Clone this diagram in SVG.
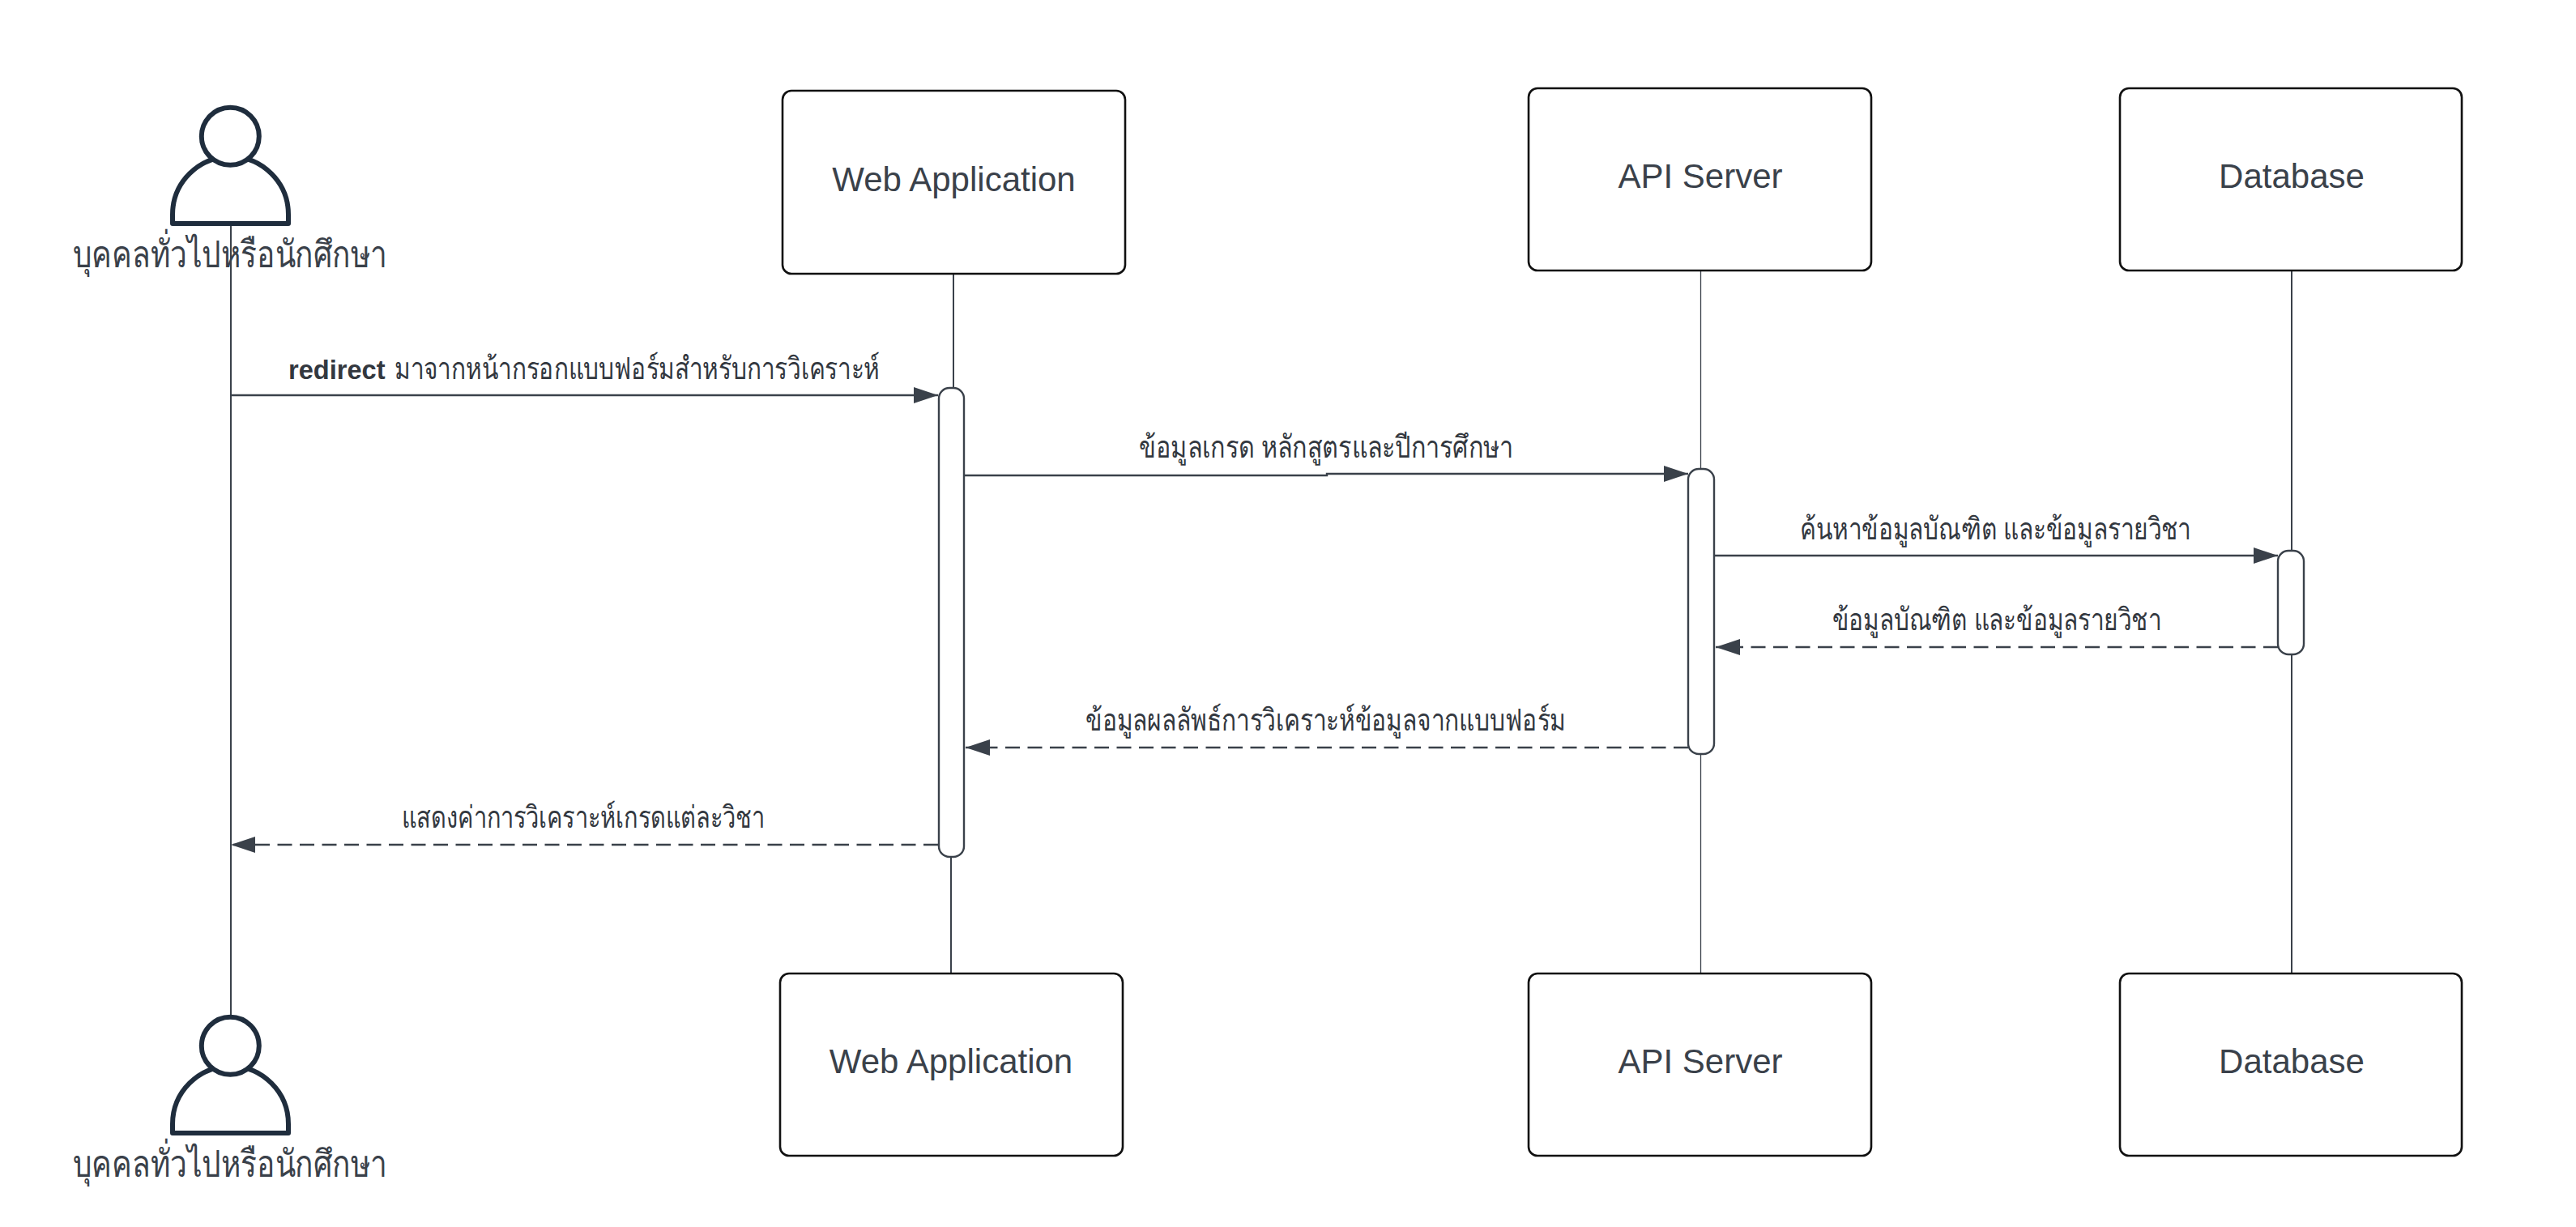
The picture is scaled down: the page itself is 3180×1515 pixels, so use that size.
<svg xmlns="http://www.w3.org/2000/svg" width="3180" height="1515" viewBox="0 0 3180 1515">
<style>
.box{fill:#fff;stroke:#111;stroke-width:2.6}
.lbl{font-family:"Liberation Sans",Arial,sans-serif;font-size:42px;fill:#3a414a;text-anchor:middle}
.th{font-family:"Liberation Serif","Noto Sans",serif;font-size:38px;fill:#33383f}
.b{font-family:"Liberation Sans",Arial,sans-serif;font-weight:bold;font-size:32.6px}
.act{font-size:46px;fill:#3a414a}
.ll{fill:none;stroke:#3a414a;stroke-width:2}
.msg{fill:none;stroke:#3a414a;stroke-width:2.4}
.dash{stroke-dasharray:18 9.5}
.bar{fill:#fff;stroke:#3a414a;stroke-width:2.4}
.per{fill:#fff;stroke:#1f2d3d;stroke-width:6;stroke-linejoin:round}
</style>
<defs>
<marker id="ah" markerUnits="userSpaceOnUse" markerWidth="31" markerHeight="22" refX="30" refY="11" orient="auto"><path d="M0 1L30 11L0 21Z" fill="#3a414a"/></marker>
<g id="person"><path class="per" d="M213 276V265A71.5 71.5 0 0 1 356 265V276Z"/><circle class="per" cx="284.3" cy="168.3" r="35.5"/></g>
</defs>
<rect width="3180" height="1515" fill="#fff"/>
<g id="connectors">
<path class="ll" d="M285 276V1253"/>
<path class="ll" d="M1177 338V479"/>
<path class="ll" d="M1174 1058V1202"/>
<path class="ll" d="M2099.5 334V1202" style="stroke-width:1.3"/>
<path class="ll" d="M2829 334V1202"/>
<path class="msg" d="M285 488H1158" marker-end="url(#ah)"/>
<path class="msg" d="M1191 587H1638V585H2084" marker-end="url(#ah)"/>
<path class="msg" d="M2116 686H2812" marker-end="url(#ah)"/>
<path class="msg dash" d="M2812 799H2118" marker-end="url(#ah)"/>
<path class="msg dash" d="M2084 923H1192" marker-end="url(#ah)"/>
<path class="msg dash" d="M1158 1043H285" marker-end="url(#ah)"/>
<text class="th" x="356" y="468"><tspan class="b">redirect</tspan> <tspan x="487" textLength="599" lengthAdjust="spacingAndGlyphs">มาจากหน้ากรอกแบบฟอร์มสำหรับการวิเคราะห์</tspan></text>
<text class="th" x="1406" y="565" textLength="462" lengthAdjust="spacingAndGlyphs">ข้อมูลเกรด หลักสูตรและปีการศึกษา</text>
<text class="th" x="2222" y="666" textLength="483" lengthAdjust="spacingAndGlyphs">ค้นหาข้อมูลบัณฑิต และข้อมูลรายวิชา</text>
<text class="th" x="2262" y="778" textLength="406" lengthAdjust="spacingAndGlyphs">ข้อมูลบัณฑิต และข้อมูลรายวิชา</text>
<text class="th" x="1340" y="902" textLength="593" lengthAdjust="spacingAndGlyphs">ข้อมูลผลลัพธ์การวิเคราะห์ข้อมูลจากแบบฟอร์ม</text>
<text class="th" x="496" y="1022" textLength="448" lengthAdjust="spacingAndGlyphs">แสดงค่าการวิเคราะห์เกรดแต่ละวิชา</text>
</g>
<g id="actor-top"><use href="#person"/><text class="th act" x="90" y="330" textLength="388" lengthAdjust="spacingAndGlyphs">บุคคลทั่วไปหรือนักศึกษา</text></g>
<g id="actor-bottom"><use href="#person" y="1123"/><text class="th act" x="90" y="1453" textLength="388" lengthAdjust="spacingAndGlyphs">บุคคลทั่วไปหรือนักศึกษา</text></g>
<g id="web-top"><rect class="box" x="966" y="112" width="423" height="226" rx="11"/><text class="lbl" x="1177.5" y="236">Web Application</text></g>
<g id="api-top"><rect class="box" x="1887" y="109" width="423" height="225" rx="11"/><text class="lbl" x="2099" y="232">API Server</text></g>
<g id="db-top"><rect class="box" x="2617" y="109" width="422" height="225" rx="11"/><text class="lbl" x="2829" y="232">Database</text></g>
<g id="web-bottom"><rect class="box" x="963" y="1202" width="423" height="225" rx="11"/><text class="lbl" x="1174" y="1325">Web Application</text></g>
<g id="api-bottom"><rect class="box" x="1887" y="1202" width="423" height="225" rx="11"/><text class="lbl" x="2099" y="1325">API Server</text></g>
<g id="db-bottom"><rect class="box" x="2617" y="1202" width="422" height="225" rx="11"/><text class="lbl" x="2829" y="1325">Database</text></g>
<g id="activation-web"><rect class="bar" x="1159" y="479" width="31" height="579" rx="13"/></g>
<g id="activation-api"><rect class="bar" x="2084" y="579" width="32" height="352" rx="13"/></g>
<g id="activation-db"><rect class="bar" x="2812" y="680" width="32" height="128" rx="13"/></g>
</svg>
